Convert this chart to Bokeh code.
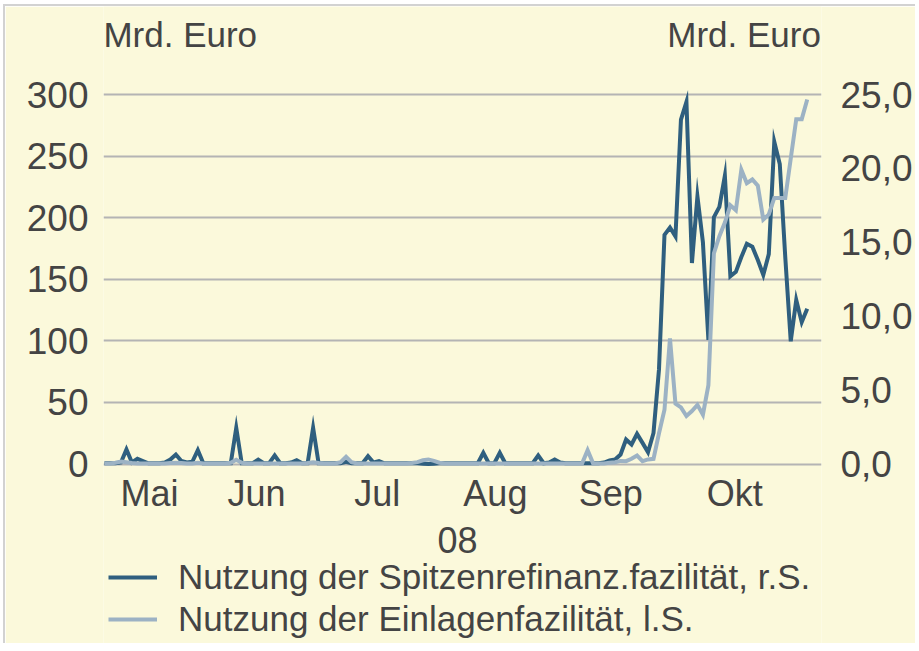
from bokeh.plotting import figure
from bokeh.models import (Range1d, LinearAxis, FixedTicker, CustomJSTickFormatter,
                          Legend, LegendItem, ColumnDataSource)
from bokeh.core.properties import value
from bokeh.embed import file_html
from bokeh.resources import INLINE

# ---------------- data ----------------
months = ["Mai", "Jun", "Jul", "Aug", "Sep", "Okt"]
month_pos = [8.2, 27.7, 49.7, 71.2, 92.2, 114.8]   # observation index of month label
year_label = "08"
year_pos = 64.3
unit_label = "Mrd. Euro"
unit_pos = [13.8, 116.5]                            # x position of the two unit captions

left_ticks = [0, 50, 100, 150, 200, 250, 300]
right_ticks = [0, 5, 10, 15, 20, 25]

# Nutzung der Spitzenrefinanzierungsfazilitaet, Mrd. Euro (right scale)
spitzen = [
    0.05, 0.05, 0.05, 0.1, 0.98, 0.1, 0.35, 0.2, 0.05, 0.05,
    0.05, 0.1, 0.3, 0.64, 0.2, 0.1, 0.15, 0.93, 0.05, 0.05,
    0.05, 0.05, 0.05, 0.05, 2.45, 0.05, 0.05, 0.05, 0.3, 0.05,
    0.05, 0.58, 0.05, 0.05, 0.1, 0.26, 0.05, 0.05, 2.45, 0.05,
    0.05, 0.05, 0.05, 0.05, 0.15, 0.05, 0.05, 0.05, 0.53, 0.1,
    0.19, 0.05, 0.05, 0.05, 0.05, 0.05, 0.05, 0.05, 0.02, 0.0,
    0.02, 0.05, 0.05, 0.05, 0.05, 0.05, 0.05, 0.05, 0.05, 0.76,
    0.05, 0.05, 0.76, 0.05, 0.05, 0.05, 0.05, 0.05, 0.05, 0.58,
    0.05, 0.1, 0.3, 0.1, 0.05, 0.05, 0.05, 0.05, 0.05, 0.05,
    0.05, 0.1, 0.24, 0.3, 0.64, 1.66, 1.32, 2.04, 1.43, 0.8,
    2.1, 6.4, 15.5, 16.0, 15.4, 23.3, 24.5, 13.6, 18.1, 15.0,
    8.4, 16.7, 17.4, 19.5, 12.7, 13.0, 14.0, 14.9, 14.7, 13.8,
    12.8, 14.2, 21.8, 20.3, 14.0, 8.3, 11.1, 9.6, 10.5,
]

# Nutzung der Einlagefazilitaet, Mrd. Euro (left scale)
einlagen = [
    0.5, 0.5, 1.0, 2.0, 1.5, 0.8, 0.5, 0.5, 0.5, 0.5,
    0.5, 0.5, 0.8, 1.0, 0.8, 0.5, 0.5, 1.0, 0.5, 0.5,
    0.5, 0.5, 0.5, 1.0, 3.5, 1.0, 0.5, 0.5, 0.5, 0.5,
    0.5, 0.5, 0.5, 0.5, 0.5, 0.5, 0.5, 0.8, 1.5, 0.8,
    0.5, 0.5, 0.5, 1.5, 5.8, 1.5, 0.5, 0.5, 0.5, 0.5,
    0.5, 0.5, 0.5, 0.5, 0.5, 0.5, 0.8, 1.5, 3.0, 3.7,
    2.5, 1.0, 0.5, 0.5, 0.5, 0.5, 0.5, 0.5, 0.5, 0.5,
    0.5, 0.5, 0.5, 0.5, 0.5, 0.5, 0.5, 0.5, 0.5, 0.5,
    0.5, 0.5, 0.5, 0.5, 0.5, 0.5, 0.5, 0.5, 11.2, 0.5,
    0.5, 0.5, 1.0, 1.5, 2.5, 2.3, 4.2, 6.9, 2.3, 3.7,
    4.2, 25.0, 44.0, 102.0, 49.0, 46.0, 39.0, 43.0, 48.0, 40.0,
    64.0, 171.0, 185.0, 196.0, 210.0, 206.0, 239.0, 228.0, 231.0, 226.0,
    198.5, 202.6, 216.0, 216.0, 216.0, 248.0, 280.0, 280.0, 296.0,
]

idx = list(range(len(spitzen)))

# ---------------- styling ----------------
BG = "#FBF9DB"
DARK = "#2F5F7F"
LIGHT = "#9CB2C4"
TXT = "#444444"
GRID = "#B4B4B4"
FONT = "Liberation Sans"

OFF_X, OFF_Y = 5, 6          # white margin + thin grey border before the chart
H = 643 - OFF_Y
# vertical pixel geometry: value 300 at y=94, value 0 at y=463.5 (before offset)
PX_PER_UNIT = 369.5 / 300.0
Y_TOP = 300 + (94 - OFF_Y) / PX_PER_UNIT
Y_BOT = -(H - (463.5 - OFF_Y)) / PX_PER_UNIT

p = figure(frame_width=718, frame_height=H, output_backend="svg", toolbar_location=None,
           x_range=Range1d(-0.18, 130.6), y_range=Range1d(Y_BOT, Y_TOP),
           min_border_left=103 - OFF_X, min_border_right=88, min_border_top=0,
           min_border_bottom=0)
p.styles = {"margin-left": "3px", "margin-top": "4px",
            "border-left": "2px solid #D2D2D2", "border-top": "2px solid #D2D2D2"}
p.background_fill_color = BG
p.border_fill_color = BG
p.outline_line_color = None

p.extra_y_ranges = {"right": Range1d(Y_BOT / 12.0, Y_TOP / 12.0)}

src = ColumnDataSource(dict(x=idx, s=spitzen, e=einlagen))
r_dark = p.line("x", "s", source=src, y_range_name="right", line_color=DARK,
                line_width=4, line_join="miter")
r_light = p.line("x", "e", source=src, line_color=LIGHT, line_width=4,
                 line_join="miter")


def plain(ax, size):
    ax.axis_line_color = None
    ax.major_tick_line_color = None
    ax.minor_tick_line_color = None
    ax.major_label_text_font = FONT
    ax.major_label_text_color = TXT
    ax.major_label_text_font_size = size


p.xaxis.visible = False

# left axis
p.yaxis.ticker = FixedTicker(ticks=left_ticks)
plain(p.yaxis[0], "37px")
p.yaxis.major_label_standoff = 9

# right axis
rax = LinearAxis(y_range_name="right", ticker=FixedTicker(ticks=right_ticks),
                 formatter=CustomJSTickFormatter(code="return tick.toFixed(1).replace('.', ',');"))
plain(rax, "37px")
rax.major_label_standoff = 13
p.add_layout(rax, "right")

p.xgrid.grid_line_color = None
p.ygrid.ticker = FixedTicker(ticks=left_ticks)
p.ygrid.grid_line_color = GRID
p.ygrid.grid_line_width = 2

# month labels, year label and unit captions
p.text(x=month_pos, y=[-24.1] * len(months), text=months, text_align="center",
       text_baseline="alphabetic", text_font=value(FONT), text_font_size="36px",
       text_color=TXT)
p.text(x=[year_pos], y=[-62.1], text=[year_label], text_align="center",
       text_baseline="alphabetic", text_font=value(FONT), text_font_size="36px",
       text_color=TXT)
p.text(x=unit_pos, y=[349.1, 349.1], text=[unit_label, unit_label], text_align="center",
       text_baseline="alphabetic", text_font=value(FONT), text_font_size="35px",
       text_color=TXT)

legend = Legend(items=[
    LegendItem(label="Nutzung der Spitzenrefinanz.fazilität, r.S.", renderers=[r_dark]),
    LegendItem(label="Nutzung der Einlagenfazilität, l.S.", renderers=[r_light]),
], location=(5, 4), orientation="vertical", padding=0, margin=0, spacing=2,
    glyph_width=49, label_standoff=21, background_fill_alpha=0,
    border_line_color=None, label_text_font=FONT, label_text_font_size="35px",
    label_text_color=TXT)
p.add_layout(legend)

open("out.html", "w").write(file_html(p, INLINE))
